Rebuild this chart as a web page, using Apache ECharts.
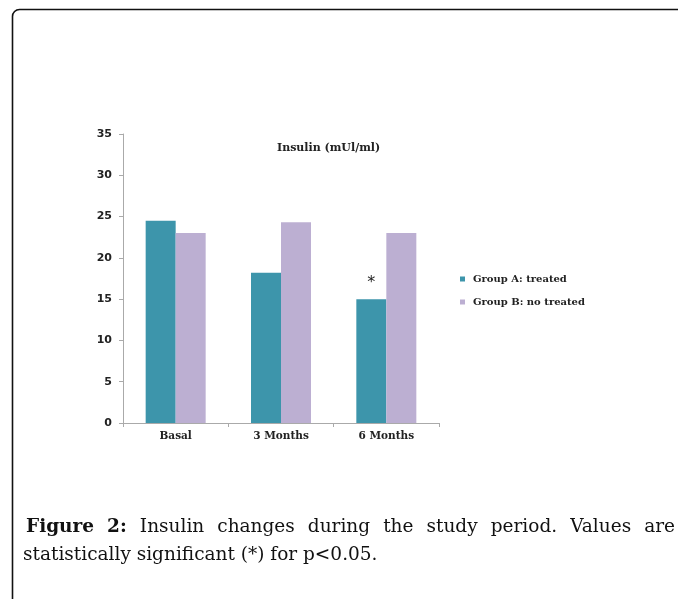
<!DOCTYPE html>
<html><head><meta charset="utf-8">
<script src="https://cdn.jsdelivr.net/npm/echarts@6/dist/echarts.min.js"></script>
<style>html,body{margin:0;padding:0;background:#fff;}#c{width:678px;height:599px;}</style>
</head><body><div id="c"></div>
<script>
const categories = ['Basal', '3 Months', '6 Months'];
const groupA = [24.5, 18.2, 15.0];
const groupB = [23.0, 24.3, 23.0];
const groupAMarks = ['', '', '*'];
const seriesNames = ['Group A: treated', 'Group B: no treated'];
const yMin = 0, yMax = 35, yStep = 5;
const chartTitle = 'Insulin (mUl/ml)';
const captionBold = 'Figure 2:';
const captionLine1 = 'Insulin changes during the study period. Values are';
const captionLine2 = 'statistically significant (*) for p<0.05.';

const colA = '#3d95ab', colB = '#bcafd2';
const serif = 'DejaVu Serif';

// caption layout (justified first line)
const ctx = document.createElement('canvas').getContext('2d');
const capSize = 18.5;
const capFont = capSize + 'px "' + serif + '"';
const capBoldFont = 'bold ' + capSize + 'px "' + serif + '"';
function tw(t, f) { ctx.font = f; return ctx.measureText(t).width; }
const words1 = captionBold.split(' ').map(t => ({ t, b: true }))
  .concat(captionLine1.split(' ').map(t => ({ t, b: false })));
const L1x0 = 26, L1x1 = 675, L1y = 527;
const L2x0 = 23, L2y = 555;
const totalW = words1.reduce((s, o) => s + tw(o.t, o.b ? capBoldFont : capFont), 0);
const gap = (L1x1 - L1x0 - totalW) / (words1.length - 1);
const graphics = [{
  type: 'rect', shape: { x: 12.5, y: 9.5, width: 720, height: 640, r: 7 },
  style: { fill: 'none', stroke: '#111', lineWidth: 1.6 }, silent: true, z: 10
}];
let cx = L1x0;
words1.forEach(o => {
  const f = o.b ? capBoldFont : capFont;
  graphics.push({ type: 'text', x: cx, y: L1y, style: { text: o.t, font: f, fill: '#111', align: 'left', verticalAlign: 'middle' } });
  cx += tw(o.t, f) + gap;
});
graphics.push({ type: 'text', x: L2x0, y: L2y, style: { text: captionLine2, font: capFont, fill: '#111', align: 'left', verticalAlign: 'middle' } });

const chart = echarts.init(document.getElementById('c'), null, { renderer: 'canvas' });
const axisGray = '#aaaaaa';
chart.setOption({
  animation: false,
  backgroundColor: '#fff',
  title: { text: chartTitle, left: 272, top: 138,
    textStyle: { fontFamily: serif, fontWeight: 'bold', fontSize: 11, color: '#222' } },
  legend: { data: seriesNames, orient: 'vertical', left: 455, top: 269,
    itemWidth: 5, itemHeight: 5, itemGap: 13, icon: 'rect',
    textStyle: { fontFamily: serif, fontWeight: 'bold', fontSize: 10, color: '#222', padding: [0, 0, 0, 3] } },
  grid: { left: 123, right: 239, top: 134, bottom: 176, containLabel: false },
  xAxis: { type: 'category', data: categories,
    axisLine: { lineStyle: { color: axisGray } },
    axisTick: { show: true, length: 4, lineStyle: { color: axisGray } },
    axisLabel: { fontFamily: serif, fontWeight: 'bold', fontSize: 10.5, color: '#222', margin: 8 } },
  yAxis: { type: 'value', min: yMin, max: yMax, interval: yStep,
    axisLine: { show: true, lineStyle: { color: axisGray } },
    axisTick: { show: true, length: 4, lineStyle: { color: axisGray } },
    splitLine: { show: false },
    axisLabel: { fontFamily: 'DejaVu Sans', fontWeight: 'bold', fontSize: 11, color: '#222', margin: 11 } },
  series: [
    { name: seriesNames[0], type: 'bar', barWidth: 30, barGap: '0%',
      itemStyle: { color: colA },
      data: groupA.map((v, i) => groupAMarks[i] ? { value: v, label: { show: true, position: 'top', distance: 8, formatter: groupAMarks[i], fontSize: 16, color: '#222', fontFamily: 'DejaVu Sans' } } : v) },
    { name: seriesNames[1], type: 'bar', barWidth: 30, barGap: '0%',
      itemStyle: { color: colB }, data: groupB }
  ],
  graphic: graphics
});
</script></body></html>
